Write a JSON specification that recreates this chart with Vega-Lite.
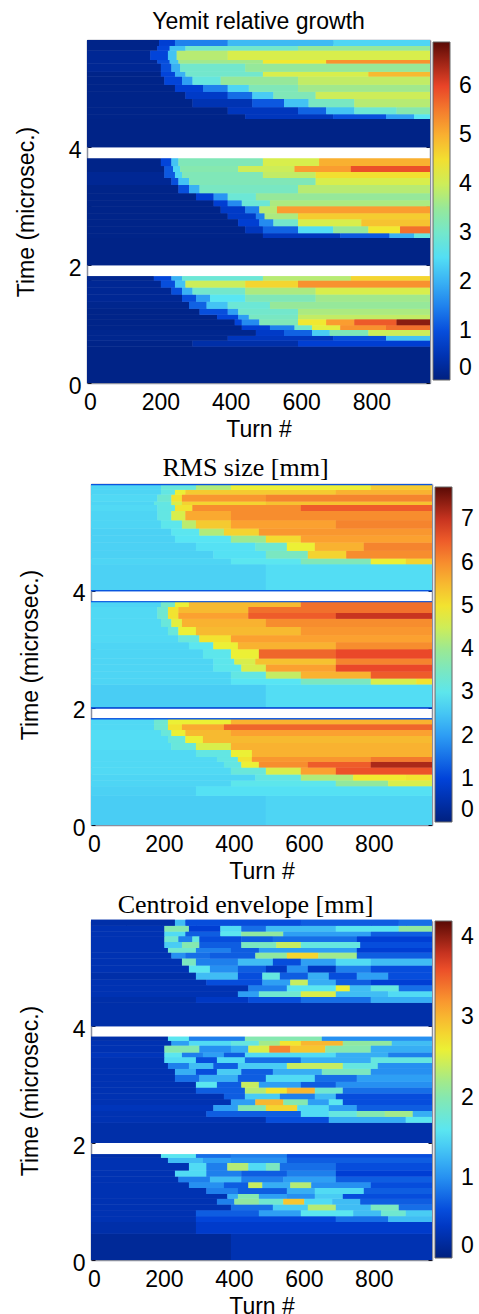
{"$schema":"https://vega.github.io/schema/vega-lite/v6.json","background":"white","padding":{"left":15,"top":11,"right":0,"bottom":0},"spacing":8,
"config":{"view":{"stroke":null},"axis":{"grid":false,"domain":true,"domainColor":"#8a8f9f","domainWidth":1.5,"labelFont":"Liberation Sans","titleFont":"Liberation Sans","labelFontSize":23,"titleFontSize":23,"titleFontWeight":"normal","labelColor":"#000","titleColor":"#000","tickColor":"#112","tickSize":-4,"zindex":1,"labelOverlap":false,"labelFlush":false}},
"datasets":{
"p1":[
{"x":0,"x2":975,"y":4,"y2":4.48,"v":0.08},
{"x":0,"x2":450,"y":4.48,"y2":4.56,"v":0.1},{"x":450,"x2":700,"y":4.48,"y2":4.56,"v":0.6},{"x":700,"x2":850,"y":4.48,"y2":4.56,"v":1},{"x":850,"x2":930,"y":4.48,"y2":4.56,"v":1.8},{"x":930,"x2":975,"y":4.48,"y2":4.56,"v":2.6},
{"x":0,"x2":400,"y":4.56,"y2":4.68,"v":0.1},{"x":400,"x2":600,"y":4.56,"y2":4.68,"v":0.6},{"x":600,"x2":680,"y":4.56,"y2":4.68,"v":1.2},{"x":680,"x2":760,"y":4.56,"y2":4.68,"v":2.2},{"x":760,"x2":880,"y":4.56,"y2":4.68,"v":2.9},{"x":880,"x2":975,"y":4.56,"y2":4.68,"v":3.3},
{"x":0,"x2":300,"y":4.68,"y2":4.82,"v":0.1},{"x":300,"x2":470,"y":4.68,"y2":4.82,"v":0.5},{"x":470,"x2":560,"y":4.68,"y2":4.82,"v":1.1},{"x":560,"x2":630,"y":4.68,"y2":4.82,"v":2.2},{"x":630,"x2":760,"y":4.68,"y2":4.82,"v":3.1},{"x":760,"x2":975,"y":4.68,"y2":4.82,"v":3.8},
{"x":0,"x2":280,"y":4.82,"y2":4.94,"v":0.1},{"x":280,"x2":400,"y":4.82,"y2":4.94,"v":0.7},{"x":400,"x2":470,"y":4.82,"y2":4.94,"v":1.3},{"x":470,"x2":530,"y":4.82,"y2":4.94,"v":2.3},{"x":530,"x2":650,"y":4.82,"y2":4.94,"v":3.2},{"x":650,"x2":975,"y":4.82,"y2":4.94,"v":4},
{"x":0,"x2":250,"y":4.94,"y2":5.06,"v":0.1},{"x":250,"x2":330,"y":4.94,"y2":5.06,"v":0.8},{"x":330,"x2":400,"y":4.94,"y2":5.06,"v":1.5},{"x":400,"x2":460,"y":4.94,"y2":5.06,"v":2.4},{"x":460,"x2":600,"y":4.94,"y2":5.06,"v":3.2},{"x":600,"x2":975,"y":4.94,"y2":5.06,"v":3.6},
{"x":0,"x2":220,"y":5.06,"y2":5.2,"v":0.1},{"x":220,"x2":270,"y":5.06,"y2":5.2,"v":0.9},{"x":270,"x2":300,"y":5.06,"y2":5.2,"v":1.8},{"x":300,"x2":380,"y":5.06,"y2":5.2,"v":2.8},{"x":380,"x2":600,"y":5.06,"y2":5.2,"v":3.5},{"x":600,"x2":975,"y":5.06,"y2":5.2,"v":3.9},
{"x":0,"x2":210,"y":5.2,"y2":5.28,"v":0.1},{"x":210,"x2":250,"y":5.2,"y2":5.28,"v":0.9},{"x":250,"x2":280,"y":5.2,"y2":5.28,"v":2},{"x":280,"x2":500,"y":5.2,"y2":5.28,"v":3},{"x":500,"x2":800,"y":5.2,"y2":5.28,"v":4.1},{"x":800,"x2":975,"y":5.2,"y2":5.28,"v":4.9},
{"x":0,"x2":210,"y":5.28,"y2":5.42,"v":0.2},{"x":210,"x2":240,"y":5.28,"y2":5.42,"v":1},{"x":240,"x2":265,"y":5.28,"y2":5.42,"v":2},{"x":265,"x2":450,"y":5.28,"y2":5.42,"v":3},{"x":450,"x2":975,"y":5.28,"y2":5.42,"v":3.5},
{"x":0,"x2":200,"y":5.42,"y2":5.48,"v":0.2},{"x":200,"x2":235,"y":5.42,"y2":5.48,"v":1},{"x":235,"x2":260,"y":5.42,"y2":5.48,"v":2.2},{"x":260,"x2":500,"y":5.42,"y2":5.48,"v":3.6},{"x":500,"x2":680,"y":5.42,"y2":5.48,"v":4.4},{"x":680,"x2":975,"y":5.42,"y2":5.48,"v":5.3},
{"x":0,"x2":180,"y":5.48,"y2":5.64,"v":0.2},{"x":180,"x2":230,"y":5.48,"y2":5.64,"v":0.9},{"x":230,"x2":255,"y":5.48,"y2":5.64,"v":2.2},{"x":255,"x2":400,"y":5.48,"y2":5.64,"v":3.8},{"x":400,"x2":975,"y":5.48,"y2":5.64,"v":4.1},
{"x":0,"x2":200,"y":5.64,"y2":5.72,"v":0.1},{"x":200,"x2":235,"y":5.64,"y2":5.72,"v":0.9},{"x":235,"x2":280,"y":5.64,"y2":5.72,"v":2.2},{"x":280,"x2":600,"y":5.64,"y2":5.72,"v":3},{"x":600,"x2":975,"y":5.64,"y2":5.72,"v":3.5},
{"x":0,"x2":205,"y":5.72,"y2":5.82,"v":0.1},{"x":205,"x2":250,"y":5.72,"y2":5.82,"v":0.8},{"x":250,"x2":400,"y":5.72,"y2":5.82,"v":1.5},{"x":400,"x2":700,"y":5.72,"y2":5.82,"v":2.1},{"x":700,"x2":975,"y":5.72,"y2":5.82,"v":2.4},
{"x":0,"x2":975,"y":2,"y2":2.46,"v":0.08},
{"x":0,"x2":500,"y":2.46,"y2":2.54,"v":0.1},{"x":500,"x2":720,"y":2.46,"y2":2.54,"v":0.6},{"x":720,"x2":860,"y":2.46,"y2":2.54,"v":1.1},{"x":860,"x2":930,"y":2.46,"y2":2.54,"v":2},{"x":930,"x2":975,"y":2.46,"y2":2.54,"v":2.8},
{"x":0,"x2":450,"y":2.54,"y2":2.66,"v":0.1},{"x":450,"x2":500,"y":2.54,"y2":2.66,"v":0.6},{"x":500,"x2":600,"y":2.54,"y2":2.66,"v":1.2},{"x":600,"x2":700,"y":2.54,"y2":2.66,"v":2.5},{"x":700,"x2":800,"y":2.54,"y2":2.66,"v":3.5},{"x":800,"x2":890,"y":2.54,"y2":2.66,"v":4.4},{"x":890,"x2":975,"y":2.54,"y2":2.66,"v":5.6},
{"x":0,"x2":430,"y":2.66,"y2":2.78,"v":0.1},{"x":430,"x2":490,"y":2.66,"y2":2.78,"v":0.8},{"x":490,"x2":530,"y":2.66,"y2":2.78,"v":1.6},{"x":530,"x2":600,"y":2.66,"y2":2.78,"v":3},{"x":600,"x2":780,"y":2.66,"y2":2.78,"v":4.1},{"x":780,"x2":975,"y":2.66,"y2":2.78,"v":4.8},
{"x":0,"x2":400,"y":2.78,"y2":2.88,"v":0.1},{"x":400,"x2":480,"y":2.78,"y2":2.88,"v":0.7},{"x":480,"x2":505,"y":2.78,"y2":2.88,"v":1.5},{"x":505,"x2":600,"y":2.78,"y2":2.88,"v":3.7},{"x":600,"x2":975,"y":2.78,"y2":2.88,"v":4.7},
{"x":0,"x2":380,"y":2.88,"y2":3,"v":0.1},{"x":380,"x2":450,"y":2.88,"y2":3,"v":0.7},{"x":450,"x2":490,"y":2.88,"y2":3,"v":1.5},{"x":490,"x2":540,"y":2.88,"y2":3,"v":3.8},{"x":540,"x2":975,"y":2.88,"y2":3,"v":5.2},
{"x":0,"x2":360,"y":3,"y2":3.1,"v":0.1},{"x":360,"x2":400,"y":3,"y2":3.1,"v":0.8},{"x":400,"x2":440,"y":3,"y2":3.1,"v":1.6},{"x":440,"x2":520,"y":3,"y2":3.1,"v":2.9},{"x":520,"x2":975,"y":3,"y2":3.1,"v":3.7},
{"x":0,"x2":310,"y":3.1,"y2":3.22,"v":0.1},{"x":310,"x2":360,"y":3.1,"y2":3.22,"v":0.8},{"x":360,"x2":400,"y":3.1,"y2":3.22,"v":1.7},{"x":400,"x2":480,"y":3.1,"y2":3.22,"v":2.9},{"x":480,"x2":975,"y":3.1,"y2":3.22,"v":3.5},
{"x":0,"x2":260,"y":3.22,"y2":3.36,"v":0.1},{"x":260,"x2":290,"y":3.22,"y2":3.36,"v":1},{"x":290,"x2":320,"y":3.22,"y2":3.36,"v":2},{"x":320,"x2":600,"y":3.22,"y2":3.36,"v":3.1},{"x":600,"x2":975,"y":3.22,"y2":3.36,"v":3.8},
{"x":0,"x2":240,"y":3.36,"y2":3.48,"v":0.2},{"x":240,"x2":260,"y":3.36,"y2":3.48,"v":1},{"x":260,"x2":290,"y":3.36,"y2":3.48,"v":2.2},{"x":290,"x2":650,"y":3.36,"y2":3.48,"v":3.2},{"x":650,"x2":975,"y":3.36,"y2":3.48,"v":4.1},
{"x":0,"x2":220,"y":3.48,"y2":3.58,"v":0.2},{"x":220,"x2":250,"y":3.48,"y2":3.58,"v":1.1},{"x":250,"x2":270,"y":3.48,"y2":3.58,"v":2.4},{"x":270,"x2":500,"y":3.48,"y2":3.58,"v":3.2},{"x":500,"x2":650,"y":3.48,"y2":3.58,"v":3.9},{"x":650,"x2":975,"y":3.48,"y2":3.58,"v":4.5},
{"x":0,"x2":220,"y":3.58,"y2":3.68,"v":0.1},{"x":220,"x2":245,"y":3.58,"y2":3.68,"v":1.1},{"x":245,"x2":265,"y":3.58,"y2":3.68,"v":2.4},{"x":265,"x2":430,"y":3.58,"y2":3.68,"v":3.3},{"x":430,"x2":590,"y":3.58,"y2":3.68,"v":4},{"x":590,"x2":750,"y":3.58,"y2":3.68,"v":5.2},{"x":750,"x2":975,"y":3.58,"y2":3.68,"v":5.9},
{"x":0,"x2":210,"y":3.68,"y2":3.81,"v":0.1},{"x":210,"x2":240,"y":3.68,"y2":3.81,"v":0.9},{"x":240,"x2":260,"y":3.68,"y2":3.81,"v":2.2},{"x":260,"x2":500,"y":3.68,"y2":3.81,"v":3.2},{"x":500,"x2":660,"y":3.68,"y2":3.81,"v":4.1},{"x":660,"x2":975,"y":3.68,"y2":3.81,"v":5},
{"x":0,"x2":975,"y":0,"y2":0.62,"v":0.08},
{"x":0,"x2":300,"y":0.62,"y2":0.72,"v":0.1},{"x":300,"x2":600,"y":0.62,"y2":0.72,"v":0.4},{"x":600,"x2":975,"y":0.62,"y2":0.72,"v":0.8},
{"x":0,"x2":400,"y":0.72,"y2":0.8,"v":0.15},{"x":400,"x2":700,"y":0.72,"y2":0.8,"v":0.6},{"x":700,"x2":850,"y":0.72,"y2":0.8,"v":1},{"x":850,"x2":975,"y":0.72,"y2":0.8,"v":2.2},
{"x":0,"x2":480,"y":0.8,"y2":0.9,"v":0.15},{"x":480,"x2":560,"y":0.8,"y2":0.9,"v":0.7},{"x":560,"x2":640,"y":0.8,"y2":0.9,"v":1.2},{"x":640,"x2":690,"y":0.8,"y2":0.9,"v":2.3},{"x":690,"x2":800,"y":0.8,"y2":0.9,"v":3.2},{"x":800,"x2":975,"y":0.8,"y2":0.9,"v":4},
{"x":0,"x2":440,"y":0.9,"y2":0.98,"v":0.1},{"x":440,"x2":520,"y":0.9,"y2":0.98,"v":0.8},{"x":520,"x2":590,"y":0.9,"y2":0.98,"v":1.5},{"x":590,"x2":640,"y":0.9,"y2":0.98,"v":3},{"x":640,"x2":720,"y":0.9,"y2":0.98,"v":4.2},{"x":720,"x2":850,"y":0.9,"y2":0.98,"v":5.3},{"x":850,"x2":975,"y":0.9,"y2":0.98,"v":5.6},
{"x":0,"x2":420,"y":0.98,"y2":1.08,"v":0.1},{"x":420,"x2":440,"y":0.98,"y2":1.08,"v":0.9},{"x":440,"x2":490,"y":0.98,"y2":1.08,"v":1.6},{"x":490,"x2":600,"y":0.98,"y2":1.08,"v":3.2},{"x":600,"x2":680,"y":0.98,"y2":1.08,"v":4.4},{"x":680,"x2":760,"y":0.98,"y2":1.08,"v":5.2},{"x":760,"x2":880,"y":0.98,"y2":1.08,"v":5.8},{"x":880,"x2":975,"y":0.98,"y2":1.08,"v":6.6},
{"x":0,"x2":370,"y":1.08,"y2":1.16,"v":0.1},{"x":370,"x2":430,"y":1.08,"y2":1.16,"v":0.9},{"x":430,"x2":460,"y":1.08,"y2":1.16,"v":1.8},{"x":460,"x2":600,"y":1.08,"y2":1.16,"v":3.1},{"x":600,"x2":975,"y":1.08,"y2":1.16,"v":3.9},
{"x":0,"x2":320,"y":1.16,"y2":1.26,"v":0.1},{"x":320,"x2":400,"y":1.16,"y2":1.26,"v":1},{"x":400,"x2":430,"y":1.16,"y2":1.26,"v":1.8},{"x":430,"x2":600,"y":1.16,"y2":1.26,"v":3},{"x":600,"x2":975,"y":1.16,"y2":1.26,"v":3.7},
{"x":0,"x2":290,"y":1.26,"y2":1.38,"v":0.15},{"x":290,"x2":340,"y":1.26,"y2":1.38,"v":1.2},{"x":340,"x2":400,"y":1.26,"y2":1.38,"v":2.2},{"x":400,"x2":520,"y":1.26,"y2":1.38,"v":2.9},{"x":520,"x2":975,"y":1.26,"y2":1.38,"v":3.5},
{"x":0,"x2":270,"y":1.38,"y2":1.5,"v":0.2},{"x":270,"x2":310,"y":1.38,"y2":1.5,"v":1},{"x":310,"x2":350,"y":1.38,"y2":1.5,"v":1.8},{"x":350,"x2":450,"y":1.38,"y2":1.5,"v":2.6},{"x":450,"x2":650,"y":1.38,"y2":1.5,"v":3.2},{"x":650,"x2":975,"y":1.38,"y2":1.5,"v":3.6},
{"x":0,"x2":240,"y":1.5,"y2":1.62,"v":0.2},{"x":240,"x2":270,"y":1.5,"y2":1.62,"v":1},{"x":270,"x2":300,"y":1.5,"y2":1.62,"v":2},{"x":300,"x2":450,"y":1.5,"y2":1.62,"v":3},{"x":450,"x2":650,"y":1.5,"y2":1.62,"v":3.7},{"x":650,"x2":975,"y":1.5,"y2":1.62,"v":4.1},
{"x":0,"x2":210,"y":1.62,"y2":1.74,"v":0.2},{"x":210,"x2":250,"y":1.62,"y2":1.74,"v":1},{"x":250,"x2":280,"y":1.62,"y2":1.74,"v":2.2},{"x":280,"x2":450,"y":1.62,"y2":1.74,"v":4},{"x":450,"x2":600,"y":1.62,"y2":1.74,"v":4.6},{"x":600,"x2":975,"y":1.62,"y2":1.74,"v":5.3},
{"x":0,"x2":190,"y":1.74,"y2":1.81,"v":0.15},{"x":190,"x2":240,"y":1.74,"y2":1.81,"v":0.9},{"x":240,"x2":270,"y":1.74,"y2":1.81,"v":2},{"x":270,"x2":500,"y":1.74,"y2":1.81,"v":2.9},{"x":500,"x2":750,"y":1.74,"y2":1.81,"v":3.8},{"x":750,"x2":975,"y":1.74,"y2":1.81,"v":4.6}
],
"p2":[
{"x":0,"x2":500,"y":4,"y2":4.45,"v":2.65},{"x":500,"x2":975,"y":4,"y2":4.45,"v":2.8},
{"x":0,"x2":400,"y":4.45,"y2":4.55,"v":2.7},{"x":400,"x2":600,"y":4.45,"y2":4.55,"v":2.95},{"x":600,"x2":800,"y":4.45,"y2":4.55,"v":3.6},{"x":800,"x2":900,"y":4.45,"y2":4.55,"v":4.8},{"x":900,"x2":975,"y":4.45,"y2":4.55,"v":5.2},
{"x":0,"x2":350,"y":4.55,"y2":4.68,"v":2.65},{"x":350,"x2":500,"y":4.55,"y2":4.68,"v":2.85},{"x":500,"x2":620,"y":4.55,"y2":4.68,"v":3.5},{"x":620,"x2":730,"y":4.55,"y2":4.68,"v":5.2},{"x":730,"x2":975,"y":4.55,"y2":4.68,"v":6},
{"x":0,"x2":300,"y":4.68,"y2":4.82,"v":2.65},{"x":300,"x2":470,"y":4.68,"y2":4.82,"v":2.85},{"x":470,"x2":560,"y":4.68,"y2":4.82,"v":3.3},{"x":560,"x2":640,"y":4.68,"y2":4.82,"v":4.8},{"x":640,"x2":780,"y":4.68,"y2":4.82,"v":5.6},{"x":780,"x2":975,"y":4.68,"y2":4.82,"v":6.1},
{"x":0,"x2":240,"y":4.82,"y2":4.94,"v":2.65},{"x":240,"x2":400,"y":4.82,"y2":4.94,"v":2.9},{"x":400,"x2":500,"y":4.82,"y2":4.94,"v":4},{"x":500,"x2":600,"y":4.82,"y2":4.94,"v":5.1},{"x":600,"x2":975,"y":4.82,"y2":4.94,"v":5.8},
{"x":0,"x2":230,"y":4.94,"y2":5.06,"v":2.65},{"x":230,"x2":310,"y":4.94,"y2":5.06,"v":2.95},{"x":310,"x2":380,"y":4.94,"y2":5.06,"v":4.2},{"x":380,"x2":480,"y":4.94,"y2":5.06,"v":5.2},{"x":480,"x2":975,"y":4.94,"y2":5.06,"v":5.9},
{"x":0,"x2":200,"y":5.06,"y2":5.2,"v":2.7},{"x":200,"x2":260,"y":5.06,"y2":5.2,"v":3},{"x":260,"x2":300,"y":5.06,"y2":5.2,"v":4.3},{"x":300,"x2":400,"y":5.06,"y2":5.2,"v":5.3},{"x":400,"x2":700,"y":5.06,"y2":5.2,"v":5.8},{"x":700,"x2":975,"y":5.06,"y2":5.2,"v":6.1},
{"x":0,"x2":190,"y":5.2,"y2":5.36,"v":2.7},{"x":190,"x2":230,"y":5.2,"y2":5.36,"v":3.1},{"x":230,"x2":270,"y":5.2,"y2":5.36,"v":4.6},{"x":270,"x2":400,"y":5.2,"y2":5.36,"v":5.7},{"x":400,"x2":975,"y":5.2,"y2":5.36,"v":6},
{"x":0,"x2":190,"y":5.36,"y2":5.46,"v":2.75},{"x":190,"x2":240,"y":5.36,"y2":5.46,"v":3.1},{"x":240,"x2":290,"y":5.36,"y2":5.46,"v":5},{"x":290,"x2":600,"y":5.36,"y2":5.46,"v":6},{"x":600,"x2":975,"y":5.36,"y2":5.46,"v":6.5},
{"x":0,"x2":180,"y":5.46,"y2":5.52,"v":2.7},{"x":180,"x2":230,"y":5.46,"y2":5.52,"v":3.1},{"x":230,"x2":260,"y":5.46,"y2":5.52,"v":4.6},{"x":260,"x2":500,"y":5.46,"y2":5.52,"v":5.2},{"x":500,"x2":975,"y":5.46,"y2":5.52,"v":5.4},
{"x":0,"x2":190,"y":5.52,"y2":5.64,"v":2.75},{"x":190,"x2":230,"y":5.52,"y2":5.64,"v":3.3},{"x":230,"x2":260,"y":5.52,"y2":5.64,"v":5},{"x":260,"x2":500,"y":5.52,"y2":5.64,"v":5.9},{"x":500,"x2":975,"y":5.52,"y2":5.64,"v":6.1},
{"x":0,"x2":200,"y":5.64,"y2":5.72,"v":2.7},{"x":200,"x2":240,"y":5.64,"y2":5.72,"v":3.1},{"x":240,"x2":270,"y":5.64,"y2":5.72,"v":4.8},{"x":270,"x2":700,"y":5.64,"y2":5.72,"v":5.3},{"x":700,"x2":975,"y":5.64,"y2":5.72,"v":5.6},
{"x":0,"x2":200,"y":5.72,"y2":5.81,"v":2.7},{"x":200,"x2":300,"y":5.72,"y2":5.81,"v":3.2},{"x":300,"x2":400,"y":5.72,"y2":5.81,"v":4.2},{"x":400,"x2":800,"y":5.72,"y2":5.81,"v":4.8},{"x":800,"x2":975,"y":5.72,"y2":5.81,"v":5.3},
{"x":0,"x2":500,"y":2,"y2":2.4,"v":2.6},{"x":500,"x2":975,"y":2,"y2":2.4,"v":2.8},
{"x":0,"x2":400,"y":2.4,"y2":2.5,"v":2.7},{"x":400,"x2":600,"y":2.4,"y2":2.5,"v":2.9},{"x":600,"x2":800,"y":2.4,"y2":2.5,"v":3.5},{"x":800,"x2":930,"y":2.4,"y2":2.5,"v":4.6},{"x":930,"x2":975,"y":2.4,"y2":2.5,"v":5},
{"x":0,"x2":400,"y":2.5,"y2":2.62,"v":2.7},{"x":400,"x2":500,"y":2.5,"y2":2.62,"v":3.1},{"x":500,"x2":600,"y":2.5,"y2":2.62,"v":4.4},{"x":600,"x2":800,"y":2.5,"y2":2.62,"v":5.6},{"x":800,"x2":975,"y":2.5,"y2":2.62,"v":6.5},
{"x":0,"x2":350,"y":2.62,"y2":2.74,"v":2.7},{"x":350,"x2":430,"y":2.62,"y2":2.74,"v":3},{"x":430,"x2":500,"y":2.62,"y2":2.74,"v":4.6},{"x":500,"x2":700,"y":2.62,"y2":2.74,"v":5.8},{"x":700,"x2":975,"y":2.62,"y2":2.74,"v":6.7},
{"x":0,"x2":350,"y":2.74,"y2":2.84,"v":2.7},{"x":350,"x2":410,"y":2.74,"y2":2.84,"v":3},{"x":410,"x2":470,"y":2.74,"y2":2.84,"v":4.6},{"x":470,"x2":700,"y":2.74,"y2":2.84,"v":5.4},{"x":700,"x2":975,"y":2.74,"y2":2.84,"v":6.1},
{"x":0,"x2":320,"y":2.84,"y2":3,"v":2.7},{"x":320,"x2":400,"y":2.84,"y2":3,"v":3},{"x":400,"x2":480,"y":2.84,"y2":3,"v":4.8},{"x":480,"x2":700,"y":2.84,"y2":3,"v":6.4},{"x":700,"x2":975,"y":2.84,"y2":3,"v":6.7},
{"x":0,"x2":280,"y":3,"y2":3.12,"v":2.7},{"x":280,"x2":350,"y":3,"y2":3.12,"v":2.95},{"x":350,"x2":420,"y":3,"y2":3.12,"v":4.8},{"x":420,"x2":700,"y":3,"y2":3.12,"v":5.6},{"x":700,"x2":975,"y":3,"y2":3.12,"v":6},
{"x":0,"x2":250,"y":3.12,"y2":3.24,"v":2.75},{"x":250,"x2":310,"y":3.12,"y2":3.24,"v":3.2},{"x":310,"x2":400,"y":3.12,"y2":3.24,"v":5},{"x":400,"x2":975,"y":3.12,"y2":3.24,"v":5.8},
{"x":0,"x2":220,"y":3.24,"y2":3.38,"v":2.75},{"x":220,"x2":250,"y":3.24,"y2":3.38,"v":3.2},{"x":250,"x2":300,"y":3.24,"y2":3.38,"v":4.8},{"x":300,"x2":600,"y":3.24,"y2":3.38,"v":5.5},{"x":600,"x2":975,"y":3.24,"y2":3.38,"v":5.9},
{"x":0,"x2":200,"y":3.38,"y2":3.52,"v":2.75},{"x":200,"x2":230,"y":3.38,"y2":3.52,"v":3.2},{"x":230,"x2":260,"y":3.38,"y2":3.52,"v":4.7},{"x":260,"x2":500,"y":3.38,"y2":3.52,"v":5.6},{"x":500,"x2":975,"y":3.38,"y2":3.52,"v":6},
{"x":0,"x2":190,"y":3.52,"y2":3.62,"v":2.75},{"x":190,"x2":220,"y":3.52,"y2":3.62,"v":3.3},{"x":220,"x2":250,"y":3.52,"y2":3.62,"v":5},{"x":250,"x2":450,"y":3.52,"y2":3.62,"v":5.8},{"x":450,"x2":700,"y":3.52,"y2":3.62,"v":6.5},{"x":700,"x2":975,"y":3.52,"y2":3.62,"v":7},
{"x":0,"x2":190,"y":3.62,"y2":3.72,"v":2.75},{"x":190,"x2":220,"y":3.62,"y2":3.72,"v":3.3},{"x":220,"x2":250,"y":3.62,"y2":3.72,"v":5},{"x":250,"x2":450,"y":3.62,"y2":3.72,"v":5.5},{"x":450,"x2":975,"y":3.62,"y2":3.72,"v":6.3},
{"x":0,"x2":200,"y":3.72,"y2":3.81,"v":2.7},{"x":200,"x2":240,"y":3.72,"y2":3.81,"v":3.4},{"x":240,"x2":280,"y":3.72,"y2":3.81,"v":4.8},{"x":280,"x2":600,"y":3.72,"y2":3.81,"v":5.5},{"x":600,"x2":975,"y":3.72,"y2":3.81,"v":6.3},
{"x":0,"x2":500,"y":0,"y2":0.5,"v":2.6},{"x":500,"x2":975,"y":0,"y2":0.5,"v":2.7},
{"x":0,"x2":300,"y":0.5,"y2":0.66,"v":2.65},{"x":300,"x2":975,"y":0.5,"y2":0.66,"v":2.85},
{"x":0,"x2":400,"y":0.66,"y2":0.76,"v":2.7},{"x":400,"x2":700,"y":0.66,"y2":0.76,"v":3},{"x":700,"x2":850,"y":0.66,"y2":0.76,"v":3.9},{"x":850,"x2":975,"y":0.66,"y2":0.76,"v":4.6},
{"x":0,"x2":470,"y":0.76,"y2":0.86,"v":2.7},{"x":470,"x2":600,"y":0.76,"y2":0.86,"v":3.1},{"x":600,"x2":750,"y":0.76,"y2":0.86,"v":4.2},{"x":750,"x2":900,"y":0.76,"y2":0.86,"v":4.9},{"x":900,"x2":975,"y":0.76,"y2":0.86,"v":5},
{"x":0,"x2":400,"y":0.86,"y2":0.98,"v":2.75},{"x":400,"x2":500,"y":0.86,"y2":0.98,"v":3.2},{"x":500,"x2":600,"y":0.86,"y2":0.98,"v":4.6},{"x":600,"x2":700,"y":0.86,"y2":0.98,"v":5.8},{"x":700,"x2":975,"y":0.86,"y2":0.98,"v":6.6},
{"x":0,"x2":380,"y":0.98,"y2":1.08,"v":2.75},{"x":380,"x2":430,"y":0.98,"y2":1.08,"v":3.1},{"x":430,"x2":480,"y":0.98,"y2":1.08,"v":4.8},{"x":480,"x2":620,"y":0.98,"y2":1.08,"v":6},{"x":620,"x2":800,"y":0.98,"y2":1.08,"v":6.5},{"x":800,"x2":975,"y":0.98,"y2":1.08,"v":7.2},
{"x":0,"x2":360,"y":1.08,"y2":1.16,"v":2.75},{"x":360,"x2":420,"y":1.08,"y2":1.16,"v":3.1},{"x":420,"x2":460,"y":1.08,"y2":1.16,"v":5},{"x":460,"x2":800,"y":1.08,"y2":1.16,"v":5.9},{"x":800,"x2":975,"y":1.08,"y2":1.16,"v":6.2},
{"x":0,"x2":300,"y":1.16,"y2":1.28,"v":2.75},{"x":300,"x2":400,"y":1.16,"y2":1.28,"v":3.1},{"x":400,"x2":460,"y":1.16,"y2":1.28,"v":4.8},{"x":460,"x2":975,"y":1.16,"y2":1.28,"v":5.6},
{"x":0,"x2":230,"y":1.28,"y2":1.4,"v":2.8},{"x":230,"x2":300,"y":1.28,"y2":1.4,"v":3.2},{"x":300,"x2":400,"y":1.28,"y2":1.4,"v":4.6},{"x":400,"x2":975,"y":1.28,"y2":1.4,"v":5.6},
{"x":0,"x2":220,"y":1.4,"y2":1.52,"v":2.8},{"x":220,"x2":270,"y":1.4,"y2":1.52,"v":3.2},{"x":270,"x2":320,"y":1.4,"y2":1.52,"v":4.8},{"x":320,"x2":975,"y":1.4,"y2":1.52,"v":5.5},
{"x":0,"x2":200,"y":1.52,"y2":1.62,"v":2.8},{"x":200,"x2":230,"y":1.52,"y2":1.62,"v":3.2},{"x":230,"x2":270,"y":1.52,"y2":1.62,"v":4.8},{"x":270,"x2":400,"y":1.52,"y2":1.62,"v":5.5},{"x":400,"x2":975,"y":1.52,"y2":1.62,"v":5.8},
{"x":0,"x2":180,"y":1.62,"y2":1.72,"v":2.75},{"x":180,"x2":220,"y":1.62,"y2":1.72,"v":3.3},{"x":220,"x2":260,"y":1.62,"y2":1.72,"v":5},{"x":260,"x2":380,"y":1.62,"y2":1.72,"v":5.7},{"x":380,"x2":975,"y":1.62,"y2":1.72,"v":6.4},
{"x":0,"x2":180,"y":1.72,"y2":1.81,"v":2.75},{"x":180,"x2":220,"y":1.72,"y2":1.81,"v":3.3},{"x":220,"x2":400,"y":1.72,"y2":1.81,"v":4.8},{"x":400,"x2":975,"y":1.72,"y2":1.81,"v":5.6},
{"x":0,"x2":975,"y":5.8,"y2":5.82,"v":1.2},{"x":0,"x2":975,"y":3.99,"y2":4.01,"v":1.2},{"x":0,"x2":975,"y":3.8,"y2":3.82,"v":1.2},{"x":0,"x2":975,"y":1.99,"y2":2.01,"v":0.9},{"x":0,"x2":975,"y":1.8,"y2":1.82,"v":1.2}
],
"p3":[
{"x":0,"x2":975,"y":4,"y2":4.4,"v":0.25},
{"x":0,"x2":300,"y":4.4,"y2":4.5,"v":0.25},{"x":300,"x2":450,"y":4.4,"y2":4.5,"v":0.4},{"x":450,"x2":600,"y":4.4,"y2":4.5,"v":0.6},{"x":600,"x2":800,"y":4.4,"y2":4.5,"v":0.8},{"x":800,"x2":975,"y":4.4,"y2":4.5,"v":1.2},
{"x":0,"x2":420,"y":4.5,"y2":4.6,"v":0.3},{"x":420,"x2":480,"y":4.5,"y2":4.6,"v":1.1},{"x":480,"x2":600,"y":4.5,"y2":4.6,"v":1.8},{"x":600,"x2":700,"y":4.5,"y2":4.6,"v":2.5},{"x":700,"x2":850,"y":4.5,"y2":4.6,"v":1.3},{"x":850,"x2":975,"y":4.5,"y2":4.6,"v":1.5},
{"x":0,"x2":450,"y":4.6,"y2":4.7,"v":0.3},{"x":450,"x2":560,"y":4.6,"y2":4.7,"v":0.9},{"x":560,"x2":700,"y":4.6,"y2":4.7,"v":1.6},{"x":700,"x2":740,"y":4.6,"y2":4.7,"v":2.6},{"x":740,"x2":800,"y":4.6,"y2":4.7,"v":1.3},{"x":800,"x2":880,"y":4.6,"y2":4.7,"v":1.7},{"x":880,"x2":975,"y":4.6,"y2":4.7,"v":0.8},
{"x":0,"x2":330,"y":4.7,"y2":4.8,"v":0.3},{"x":330,"x2":490,"y":4.7,"y2":4.8,"v":0.6},{"x":490,"x2":570,"y":4.7,"y2":4.8,"v":1.1},{"x":570,"x2":620,"y":4.7,"y2":4.8,"v":2.4},{"x":620,"x2":700,"y":4.7,"y2":4.8,"v":1.2},{"x":700,"x2":800,"y":4.7,"y2":4.8,"v":0.7},{"x":800,"x2":975,"y":4.7,"y2":4.8,"v":0.5},
{"x":0,"x2":300,"y":4.8,"y2":4.92,"v":0.25},{"x":300,"x2":420,"y":4.8,"y2":4.92,"v":1.3},{"x":420,"x2":490,"y":4.8,"y2":4.92,"v":0.6},{"x":490,"x2":540,"y":4.8,"y2":4.92,"v":1.7},{"x":540,"x2":620,"y":4.8,"y2":4.92,"v":0.7},{"x":620,"x2":680,"y":4.8,"y2":4.92,"v":1.2},{"x":680,"x2":760,"y":4.8,"y2":4.92,"v":0.6},{"x":760,"x2":850,"y":4.8,"y2":4.92,"v":1.1},{"x":850,"x2":975,"y":4.8,"y2":4.92,"v":0.6},
{"x":0,"x2":280,"y":4.92,"y2":5.04,"v":0.3},{"x":280,"x2":340,"y":4.92,"y2":5.04,"v":1.6},{"x":340,"x2":420,"y":4.92,"y2":5.04,"v":1},{"x":420,"x2":500,"y":4.92,"y2":5.04,"v":0.7},{"x":500,"x2":560,"y":4.92,"y2":5.04,"v":0.4},{"x":560,"x2":620,"y":4.92,"y2":5.04,"v":1},{"x":620,"x2":700,"y":4.92,"y2":5.04,"v":0.4},{"x":700,"x2":800,"y":4.92,"y2":5.04,"v":0.9},{"x":800,"x2":975,"y":4.92,"y2":5.04,"v":0.6},
{"x":0,"x2":260,"y":5.04,"y2":5.16,"v":0.3},{"x":260,"x2":300,"y":5.04,"y2":5.16,"v":1.9},{"x":300,"x2":420,"y":5.04,"y2":5.16,"v":0.9},{"x":420,"x2":520,"y":5.04,"y2":5.16,"v":1.3},{"x":520,"x2":600,"y":5.04,"y2":5.16,"v":0.6},{"x":600,"x2":700,"y":5.04,"y2":5.16,"v":1.1},{"x":700,"x2":800,"y":5.04,"y2":5.16,"v":1.5},{"x":800,"x2":975,"y":5.04,"y2":5.16,"v":1.3},
{"x":0,"x2":230,"y":5.16,"y2":5.26,"v":0.3},{"x":230,"x2":270,"y":5.16,"y2":5.26,"v":1},{"x":270,"x2":340,"y":5.16,"y2":5.26,"v":0.8},{"x":340,"x2":470,"y":5.16,"y2":5.26,"v":0.7},{"x":470,"x2":560,"y":5.16,"y2":5.26,"v":2.1},{"x":560,"x2":650,"y":5.16,"y2":5.26,"v":2.8},{"x":650,"x2":760,"y":5.16,"y2":5.26,"v":2.2},{"x":760,"x2":975,"y":5.16,"y2":5.26,"v":0.7},
{"x":0,"x2":220,"y":5.26,"y2":5.34,"v":0.3},{"x":220,"x2":300,"y":5.26,"y2":5.34,"v":1.8},{"x":300,"x2":400,"y":5.26,"y2":5.34,"v":0.9},{"x":400,"x2":480,"y":5.26,"y2":5.34,"v":0.7},{"x":480,"x2":760,"y":5.26,"y2":5.34,"v":1.1},{"x":760,"x2":975,"y":5.26,"y2":5.34,"v":0.5},
{"x":0,"x2":210,"y":5.34,"y2":5.44,"v":0.3},{"x":210,"x2":260,"y":5.34,"y2":5.44,"v":1.4},{"x":260,"x2":310,"y":5.34,"y2":5.44,"v":2},{"x":310,"x2":430,"y":5.34,"y2":5.44,"v":0.7},{"x":430,"x2":530,"y":5.34,"y2":5.44,"v":1.9},{"x":530,"x2":600,"y":5.34,"y2":5.44,"v":2.4},{"x":600,"x2":770,"y":5.34,"y2":5.44,"v":1.7},{"x":770,"x2":975,"y":5.34,"y2":5.44,"v":0.6},
{"x":0,"x2":210,"y":5.44,"y2":5.54,"v":0.3},{"x":210,"x2":250,"y":5.44,"y2":5.54,"v":1.8},{"x":250,"x2":290,"y":5.44,"y2":5.54,"v":0.9},{"x":290,"x2":310,"y":5.44,"y2":5.54,"v":1.7},{"x":310,"x2":430,"y":5.44,"y2":5.54,"v":0.6},{"x":430,"x2":520,"y":5.44,"y2":5.54,"v":0.7},{"x":520,"x2":760,"y":5.44,"y2":5.54,"v":0.8},{"x":760,"x2":975,"y":5.44,"y2":5.54,"v":0.5},
{"x":0,"x2":210,"y":5.54,"y2":5.62,"v":0.3},{"x":210,"x2":270,"y":5.54,"y2":5.62,"v":1.5},{"x":270,"x2":370,"y":5.54,"y2":5.62,"v":0.7},{"x":370,"x2":430,"y":5.54,"y2":5.62,"v":1.6},{"x":430,"x2":550,"y":5.54,"y2":5.62,"v":2.1},{"x":550,"x2":800,"y":5.54,"y2":5.62,"v":1.1},{"x":800,"x2":975,"y":5.54,"y2":5.62,"v":0.7},
{"x":0,"x2":210,"y":5.62,"y2":5.72,"v":0.3},{"x":210,"x2":280,"y":5.62,"y2":5.72,"v":2},{"x":280,"x2":370,"y":5.62,"y2":5.72,"v":0.5},{"x":370,"x2":430,"y":5.62,"y2":5.72,"v":1.5},{"x":430,"x2":500,"y":5.62,"y2":5.72,"v":0.8},{"x":500,"x2":700,"y":5.62,"y2":5.72,"v":1.3},{"x":700,"x2":880,"y":5.62,"y2":5.72,"v":1.6},{"x":880,"x2":975,"y":5.62,"y2":5.72,"v":2.1},
{"x":0,"x2":240,"y":5.72,"y2":5.82,"v":0.25},{"x":240,"x2":270,"y":5.72,"y2":5.82,"v":1.3},{"x":270,"x2":600,"y":5.72,"y2":5.82,"v":0.6},{"x":600,"x2":880,"y":5.72,"y2":5.82,"v":0.7},{"x":880,"x2":975,"y":5.72,"y2":5.82,"v":0.8},
{"x":0,"x2":975,"y":2,"y2":2.35,"v":0.25},
{"x":0,"x2":500,"y":2.35,"y2":2.45,"v":0.3},{"x":500,"x2":680,"y":2.35,"y2":2.45,"v":0.6},{"x":680,"x2":900,"y":2.35,"y2":2.45,"v":1.2},{"x":900,"x2":975,"y":2.35,"y2":2.45,"v":1.6},
{"x":0,"x2":330,"y":2.45,"y2":2.55,"v":0.3},{"x":330,"x2":600,"y":2.45,"y2":2.55,"v":0.7},{"x":600,"x2":680,"y":2.45,"y2":2.55,"v":1.5},{"x":680,"x2":760,"y":2.45,"y2":2.55,"v":1.7},{"x":760,"x2":840,"y":2.45,"y2":2.55,"v":2},{"x":840,"x2":920,"y":2.45,"y2":2.55,"v":2.2},{"x":920,"x2":975,"y":2.45,"y2":2.55,"v":1.2},
{"x":0,"x2":350,"y":2.55,"y2":2.65,"v":0.35},{"x":350,"x2":420,"y":2.55,"y2":2.65,"v":1.1},{"x":420,"x2":500,"y":2.55,"y2":2.65,"v":2},{"x":500,"x2":590,"y":2.55,"y2":2.65,"v":2.8},{"x":590,"x2":680,"y":2.55,"y2":2.65,"v":1.5},{"x":680,"x2":760,"y":2.55,"y2":2.65,"v":1.1},{"x":760,"x2":975,"y":2.55,"y2":2.65,"v":0.7},
{"x":0,"x2":400,"y":2.65,"y2":2.75,"v":0.3},{"x":400,"x2":470,"y":2.65,"y2":2.75,"v":1.1},{"x":470,"x2":550,"y":2.65,"y2":2.75,"v":3},{"x":550,"x2":620,"y":2.65,"y2":2.75,"v":2},{"x":620,"x2":680,"y":2.65,"y2":2.75,"v":1.1},{"x":680,"x2":720,"y":2.65,"y2":2.75,"v":1.6},{"x":720,"x2":975,"y":2.65,"y2":2.75,"v":0.6},
{"x":0,"x2":380,"y":2.75,"y2":2.85,"v":0.3},{"x":380,"x2":440,"y":2.75,"y2":2.85,"v":0.7},{"x":440,"x2":540,"y":2.75,"y2":2.85,"v":1.4},{"x":540,"x2":640,"y":2.75,"y2":2.85,"v":0.9},{"x":640,"x2":700,"y":2.75,"y2":2.85,"v":1.3},{"x":700,"x2":975,"y":2.75,"y2":2.85,"v":0.6},
{"x":0,"x2":300,"y":2.85,"y2":2.95,"v":0.3},{"x":300,"x2":440,"y":2.85,"y2":2.95,"v":0.7},{"x":440,"x2":500,"y":2.85,"y2":2.95,"v":2.3},{"x":500,"x2":560,"y":2.85,"y2":2.95,"v":2.7},{"x":560,"x2":640,"y":2.85,"y2":2.95,"v":3},{"x":640,"x2":720,"y":2.85,"y2":2.95,"v":1.8},{"x":720,"x2":975,"y":2.85,"y2":2.95,"v":0.8},
{"x":0,"x2":300,"y":2.95,"y2":3.05,"v":0.3},{"x":300,"x2":360,"y":2.95,"y2":3.05,"v":1.6},{"x":360,"x2":430,"y":2.95,"y2":3.05,"v":0.7},{"x":430,"x2":480,"y":2.95,"y2":3.05,"v":2.4},{"x":480,"x2":600,"y":2.95,"y2":3.05,"v":1.1},{"x":600,"x2":700,"y":2.95,"y2":3.05,"v":0.7},{"x":700,"x2":975,"y":2.95,"y2":3.05,"v":1},
{"x":0,"x2":240,"y":3.05,"y2":3.17,"v":0.3},{"x":240,"x2":310,"y":3.05,"y2":3.17,"v":0.8},{"x":310,"x2":420,"y":3.05,"y2":3.17,"v":1.2},{"x":420,"x2":500,"y":3.05,"y2":3.17,"v":0.7},{"x":500,"x2":640,"y":3.05,"y2":3.17,"v":1.5},{"x":640,"x2":760,"y":3.05,"y2":3.17,"v":0.8},{"x":760,"x2":975,"y":3.05,"y2":3.17,"v":1.1},
{"x":0,"x2":240,"y":3.17,"y2":3.27,"v":0.3},{"x":240,"x2":300,"y":3.17,"y2":3.27,"v":1.2},{"x":300,"x2":360,"y":3.17,"y2":3.27,"v":0.6},{"x":360,"x2":430,"y":3.17,"y2":3.27,"v":1.4},{"x":430,"x2":520,"y":3.17,"y2":3.27,"v":0.7},{"x":520,"x2":660,"y":3.17,"y2":3.27,"v":1.2},{"x":660,"x2":800,"y":3.17,"y2":3.27,"v":1.9},{"x":800,"x2":975,"y":3.17,"y2":3.27,"v":1},
{"x":0,"x2":220,"y":3.27,"y2":3.37,"v":0.3},{"x":220,"x2":280,"y":3.27,"y2":3.37,"v":0.9},{"x":280,"x2":350,"y":3.27,"y2":3.37,"v":1.3},{"x":350,"x2":420,"y":3.27,"y2":3.37,"v":0.7},{"x":420,"x2":560,"y":3.27,"y2":3.37,"v":1.4},{"x":560,"x2":720,"y":3.27,"y2":3.37,"v":2.4},{"x":720,"x2":820,"y":3.27,"y2":3.37,"v":1.7},{"x":820,"x2":975,"y":3.27,"y2":3.37,"v":1},
{"x":0,"x2":210,"y":3.37,"y2":3.47,"v":0.3},{"x":210,"x2":300,"y":3.37,"y2":3.47,"v":1.5},{"x":300,"x2":360,"y":3.37,"y2":3.47,"v":0.6},{"x":360,"x2":440,"y":3.37,"y2":3.47,"v":1.5},{"x":440,"x2":600,"y":3.37,"y2":3.47,"v":0.8},{"x":600,"x2":800,"y":3.37,"y2":3.47,"v":1.2},{"x":800,"x2":975,"y":3.37,"y2":3.47,"v":1.7},
{"x":0,"x2":210,"y":3.47,"y2":3.55,"v":0.35},{"x":210,"x2":260,"y":3.47,"y2":3.55,"v":1.6},{"x":260,"x2":320,"y":3.47,"y2":3.55,"v":0.9},{"x":320,"x2":380,"y":3.47,"y2":3.55,"v":1.1},{"x":380,"x2":440,"y":3.47,"y2":3.55,"v":0.7},{"x":440,"x2":700,"y":3.47,"y2":3.55,"v":1.5},{"x":700,"x2":850,"y":3.47,"y2":3.55,"v":1.2},{"x":850,"x2":975,"y":3.47,"y2":3.55,"v":0.9},
{"x":0,"x2":210,"y":3.55,"y2":3.67,"v":0.3},{"x":210,"x2":310,"y":3.55,"y2":3.67,"v":2},{"x":310,"x2":400,"y":3.55,"y2":3.67,"v":1},{"x":400,"x2":450,"y":3.55,"y2":3.67,"v":1.2},{"x":450,"x2":510,"y":3.55,"y2":3.67,"v":2.5},{"x":510,"x2":570,"y":3.55,"y2":3.67,"v":3.3},{"x":570,"x2":670,"y":3.55,"y2":3.67,"v":2.9},{"x":670,"x2":800,"y":3.55,"y2":3.67,"v":2},{"x":800,"x2":975,"y":3.55,"y2":3.67,"v":1.2},
{"x":0,"x2":230,"y":3.67,"y2":3.75,"v":0.3},{"x":230,"x2":280,"y":3.67,"y2":3.75,"v":1.1},{"x":280,"x2":400,"y":3.67,"y2":3.75,"v":1.5},{"x":400,"x2":480,"y":3.67,"y2":3.75,"v":1.7},{"x":480,"x2":540,"y":3.67,"y2":3.75,"v":2.2},{"x":540,"x2":600,"y":3.67,"y2":3.75,"v":2.7},{"x":600,"x2":720,"y":3.67,"y2":3.75,"v":3},{"x":720,"x2":860,"y":3.67,"y2":3.75,"v":2.1},{"x":860,"x2":975,"y":3.67,"y2":3.75,"v":1.3},
{"x":0,"x2":220,"y":3.75,"y2":3.82,"v":0.25},{"x":220,"x2":280,"y":3.75,"y2":3.82,"v":1.6},{"x":280,"x2":440,"y":3.75,"y2":3.82,"v":0.9},{"x":440,"x2":660,"y":3.75,"y2":3.82,"v":2},{"x":660,"x2":975,"y":3.75,"y2":3.82,"v":1},
{"x":0,"x2":400,"y":0,"y2":0.45,"v":0.15},{"x":400,"x2":975,"y":0,"y2":0.45,"v":0.3},
{"x":0,"x2":300,"y":0.45,"y2":0.65,"v":0.25},{"x":300,"x2":975,"y":0.45,"y2":0.65,"v":0.45},
{"x":0,"x2":300,"y":0.65,"y2":0.75,"v":0.3},{"x":300,"x2":700,"y":0.65,"y2":0.75,"v":0.55},{"x":700,"x2":850,"y":0.65,"y2":0.75,"v":0.8},{"x":850,"x2":975,"y":0.65,"y2":0.75,"v":1.3},
{"x":0,"x2":300,"y":0.75,"y2":0.85,"v":0.3},{"x":300,"x2":480,"y":0.75,"y2":0.85,"v":0.7},{"x":480,"x2":600,"y":0.75,"y2":0.85,"v":1.1},{"x":600,"x2":750,"y":0.75,"y2":0.85,"v":1.6},{"x":750,"x2":830,"y":0.75,"y2":0.85,"v":1.3},{"x":830,"x2":900,"y":0.75,"y2":0.85,"v":1.8},{"x":900,"x2":975,"y":0.75,"y2":0.85,"v":1.4},
{"x":0,"x2":400,"y":0.85,"y2":0.95,"v":0.3},{"x":400,"x2":520,"y":0.85,"y2":0.95,"v":0.8},{"x":520,"x2":620,"y":0.85,"y2":0.95,"v":1.4},{"x":620,"x2":700,"y":0.85,"y2":0.95,"v":2.3},{"x":700,"x2":800,"y":0.85,"y2":0.95,"v":1.3},{"x":800,"x2":880,"y":0.85,"y2":0.95,"v":1.9},{"x":880,"x2":975,"y":0.85,"y2":0.95,"v":0.8},
{"x":0,"x2":360,"y":0.95,"y2":1.05,"v":0.3},{"x":360,"x2":410,"y":0.95,"y2":1.05,"v":0.9},{"x":410,"x2":480,"y":0.95,"y2":1.05,"v":2.1},{"x":480,"x2":550,"y":0.95,"y2":1.05,"v":1.8},{"x":550,"x2":610,"y":0.95,"y2":1.05,"v":2.9},{"x":610,"x2":690,"y":0.95,"y2":1.05,"v":1.5},{"x":690,"x2":770,"y":0.95,"y2":1.05,"v":1.3},{"x":770,"x2":975,"y":0.95,"y2":1.05,"v":0.7},
{"x":0,"x2":390,"y":1.05,"y2":1.13,"v":0.3},{"x":390,"x2":420,"y":1.05,"y2":1.13,"v":1.2},{"x":420,"x2":480,"y":1.05,"y2":1.13,"v":2},{"x":480,"x2":560,"y":1.05,"y2":1.13,"v":1.1},{"x":560,"x2":640,"y":1.05,"y2":1.13,"v":1},{"x":640,"x2":720,"y":1.05,"y2":1.13,"v":1.4},{"x":720,"x2":975,"y":1.05,"y2":1.13,"v":0.6},
{"x":0,"x2":330,"y":1.13,"y2":1.23,"v":0.3},{"x":330,"x2":420,"y":1.13,"y2":1.23,"v":0.9},{"x":420,"x2":560,"y":1.13,"y2":1.23,"v":0.7},{"x":560,"x2":640,"y":1.13,"y2":1.23,"v":1.2},{"x":640,"x2":780,"y":1.13,"y2":1.23,"v":1.5},{"x":780,"x2":975,"y":1.13,"y2":1.23,"v":0.7},
{"x":0,"x2":280,"y":1.23,"y2":1.33,"v":0.3},{"x":280,"x2":380,"y":1.23,"y2":1.33,"v":1},{"x":380,"x2":450,"y":1.23,"y2":1.33,"v":0.7},{"x":450,"x2":490,"y":1.23,"y2":1.33,"v":2.4},{"x":490,"x2":570,"y":1.23,"y2":1.33,"v":1.2},{"x":570,"x2":630,"y":1.23,"y2":1.33,"v":2.3},{"x":630,"x2":800,"y":1.23,"y2":1.33,"v":1},{"x":800,"x2":975,"y":1.23,"y2":1.33,"v":0.6},
{"x":0,"x2":250,"y":1.33,"y2":1.43,"v":0.3},{"x":250,"x2":340,"y":1.33,"y2":1.43,"v":0.9},{"x":340,"x2":430,"y":1.33,"y2":1.43,"v":1.3},{"x":430,"x2":550,"y":1.33,"y2":1.43,"v":0.9},{"x":550,"x2":700,"y":1.33,"y2":1.43,"v":1.1},{"x":700,"x2":975,"y":1.33,"y2":1.43,"v":0.7},
{"x":0,"x2":240,"y":1.43,"y2":1.53,"v":0.3},{"x":240,"x2":330,"y":1.43,"y2":1.53,"v":1.5},{"x":330,"x2":430,"y":1.43,"y2":1.53,"v":0.9},{"x":430,"x2":560,"y":1.43,"y2":1.53,"v":0.7},{"x":560,"x2":700,"y":1.43,"y2":1.53,"v":0.9},{"x":700,"x2":975,"y":1.43,"y2":1.53,"v":0.5},
{"x":0,"x2":280,"y":1.53,"y2":1.66,"v":0.3},{"x":280,"x2":330,"y":1.53,"y2":1.66,"v":1.5},{"x":330,"x2":390,"y":1.53,"y2":1.66,"v":0.9},{"x":390,"x2":450,"y":1.53,"y2":1.66,"v":2.3},{"x":450,"x2":500,"y":1.53,"y2":1.66,"v":1.5},{"x":500,"x2":540,"y":1.53,"y2":1.66,"v":1.9},{"x":540,"x2":700,"y":1.53,"y2":1.66,"v":0.8},{"x":700,"x2":975,"y":1.53,"y2":1.66,"v":0.6},
{"x":0,"x2":220,"y":1.66,"y2":1.75,"v":0.3},{"x":220,"x2":320,"y":1.66,"y2":1.75,"v":1.3},{"x":320,"x2":400,"y":1.66,"y2":1.75,"v":1.1},{"x":400,"x2":560,"y":1.66,"y2":1.75,"v":1},{"x":560,"x2":975,"y":1.66,"y2":1.75,"v":0.7},
{"x":0,"x2":200,"y":1.75,"y2":1.81,"v":0.25},{"x":200,"x2":300,"y":1.75,"y2":1.81,"v":1.6},{"x":300,"x2":400,"y":1.75,"y2":1.81,"v":0.8},{"x":400,"x2":560,"y":1.75,"y2":1.81,"v":0.9},{"x":560,"x2":975,"y":1.75,"y2":1.81,"v":0.6}
]},
"vconcat":[
{"spacing":13,"vconcat":[
{"title":{"text":"Yemit relative growth","font":"Liberation Sans","fontSize":23,"fontWeight":"normal","color":"#000","offset":2},"width":343,"height":343,"data":{"name":"p1"},
"layer":[
{"mark":{"type":"rect"},"encoding":{
"x":{"field":"x","type":"quantitative","scale":{"domain":[0,975],"nice":false,"zero":false},"axis":{"values":[0,100,200,300,400,500,600,700,800,900],"labelExpr":"datum.value%200==0?datum.label:''","title":"Turn #","labelOffset":3,"labelPadding":12,"titlePadding":4}},
"x2":{"field":"x2"},
"y":{"field":"y","type":"quantitative","scale":{"domain":[0,5.82],"nice":false,"zero":false},"axis":{"values":[0,0.25,0.5,0.75,1,1.25,1.5,1.75,2,2.25,2.5,2.75,3,3.25,3.5,3.75,4,4.25,4.5,4.75,5,5.25,5.5,5.75],"labelExpr":"datum.value%2==0?format(datum.value,'d'):''","title":"Time (microsec.)","labelOffset":3,"labelPadding":10,"titlePadding":30}},
"y2":{"field":"y2"},
"color":{"field":"v","type":"quantitative","scale":{"domain":[0,6.9],"interpolate":"rgb","range":["#00207f","#0040d8","#2a98f4","#58e6f4","#90e8a0","#f0f030","#fba030","#e84028","#5a0a05"]},"legend":{"type":"gradient","orient":"none","legendX":346,"legendY":2,"gradientLength":338,"gradientThickness":17,"title":null,"values":[0,1,2,3,4,5,6],"format":"d","labelFont":"Liberation Sans","labelFontSize":23,"labelColor":"#000","labelOffset":9,"labelOverlap":false,"gradientStrokeColor":"#666","gradientStrokeWidth":1}}}},
{"mark":{"type":"rect"},"encoding":{
"x":{"field":"x","type":"quantitative","axis":{"orient":"top","values":[0,100,200,300,400,500,600,700,800,900],"labels":false,"title":null}},"x2":{"field":"x2"},
"y":{"field":"y","type":"quantitative","axis":{"orient":"right","values":[0,0.5,1,1.5,2,2.5,3,3.5,4,4.5,5,5.5],"labels":false,"title":null}},"y2":{"field":"y2"},
"color":{"field":"v","type":"quantitative","legend":null}}}
],"resolve":{"axis":{"x":"independent","y":"independent"}}},
{"title":{"text":"RMS size [mm]","font":"Liberation Serif","fontSize":26,"fontWeight":"normal","color":"#000","offset":3,"dx":-14},"width":345,"height":341,"data":{"name":"p2"},
"layer":[
{"mark":{"type":"rect"},"encoding":{
"x":{"field":"x","type":"quantitative","scale":{"domain":[0,975],"nice":false,"zero":false,"range":[4,345]},"axis":{"values":[0,100,200,300,400,500,600,700,800,900],"labelExpr":"datum.value%200==0?datum.label:''","title":"Turn #","labelOffset":3,"labelPadding":12,"titlePadding":4}},
"x2":{"field":"x2"},
"y":{"field":"y","type":"quantitative","scale":{"domain":[0,5.82],"nice":false,"zero":false},"axis":{"offset":-4,"values":[0,0.5,1,1.5,2,2.5,3,3.5,4,4.5,5,5.5],"labelExpr":"datum.value%2==0?format(datum.value,'d'):''","title":"Time (microsec.)","labelOffset":3,"labelPadding":10,"titlePadding":30}},
"y2":{"field":"y2"},
"color":{"field":"v","type":"quantitative","scale":{"domain":[0,7.75],"interpolate":"rgb","range":["#00207f","#0040d8","#2a98f4","#58e6f4","#90e8a0","#f0f030","#fba030","#e84028","#5a0a05"]},"legend":{"type":"gradient","orient":"none","legendX":348,"legendY":3,"gradientLength":335,"gradientThickness":17,"title":null,"values":[0,1,2,3,4,5,6,7],"format":"d","labelFont":"Liberation Sans","labelFontSize":23,"labelColor":"#000","labelOffset":9,"labelOverlap":false,"gradientStrokeColor":"#666","gradientStrokeWidth":1}}}},
{"mark":{"type":"rect"},"encoding":{
"x":{"field":"x","type":"quantitative","axis":{"orient":"top","values":[0,100,200,300,400,500,600,700,800,900],"labels":false,"title":null}},"x2":{"field":"x2"},
"y":{"field":"y","type":"quantitative","axis":{"orient":"right","values":[0,0.5,1,1.5,2,2.5,3,3.5,4,4.5,5,5.5],"labels":false,"title":null}},"y2":{"field":"y2"},
"color":{"field":"v","type":"quantitative","legend":null}}}
],"resolve":{"axis":{"x":"independent","y":"independent"}}}
],"resolve":{"scale":{"color":"independent"}}},
{"title":{"text":"Centroid envelope [mm]","font":"Liberation Serif","fontSize":26,"fontWeight":"normal","color":"#000","offset":2,"dx":-14},"width":345,"height":339,"data":{"name":"p3"},
"layer":[
{"mark":{"type":"rect"},"encoding":{
"x":{"field":"x","type":"quantitative","scale":{"domain":[0,975],"nice":false,"zero":false,"range":[4,345]},"axis":{"values":[0,100,200,300,400,500,600,700,800,900],"labelExpr":"datum.value%200==0?datum.label:''","title":"Turn #","labelOffset":3,"labelPadding":12,"titlePadding":4}},
"x2":{"field":"x2"},
"y":{"field":"y","type":"quantitative","scale":{"domain":[0,5.8],"nice":false,"zero":false},"axis":{"offset":-4,"values":[0,0.5,1,1.5,2,2.5,3,3.5,4,4.5,5,5.5],"labelExpr":"datum.value%2==0?format(datum.value,'d'):''","title":"Time (microsec.)","labelOffset":3,"labelPadding":10,"titlePadding":30}},
"y2":{"field":"y2"},
"color":{"field":"v","type":"quantitative","scale":{"domain":[0,4.2],"interpolate":"rgb","range":["#00207f","#0040d8","#2a98f4","#58e6f4","#90e8a0","#f0f030","#fba030","#e84028","#5a0a05"]},"legend":{"type":"gradient","orient":"none","legendX":348,"legendY":0,"gradientLength":337,"gradientThickness":17,"title":null,"values":[0,1,2,3,4],"format":"d","labelFont":"Liberation Sans","labelFontSize":23,"labelColor":"#000","labelOffset":9,"labelOverlap":false,"gradientStrokeColor":"#666","gradientStrokeWidth":1}}}},
{"mark":{"type":"rect"},"encoding":{
"x":{"field":"x","type":"quantitative","axis":{"orient":"top","values":[0,100,200,300,400,500,600,700,800,900],"labels":false,"title":null}},"x2":{"field":"x2"},
"y":{"field":"y","type":"quantitative","axis":{"orient":"right","values":[0,0.5,1,1.5,2,2.5,3,3.5,4,4.5,5,5.5],"labels":false,"title":null}},"y2":{"field":"y2"},
"color":{"field":"v","type":"quantitative","legend":null}}}
],"resolve":{"axis":{"x":"independent","y":"independent"}}}
],
"resolve":{"scale":{"color":"independent"}}}
